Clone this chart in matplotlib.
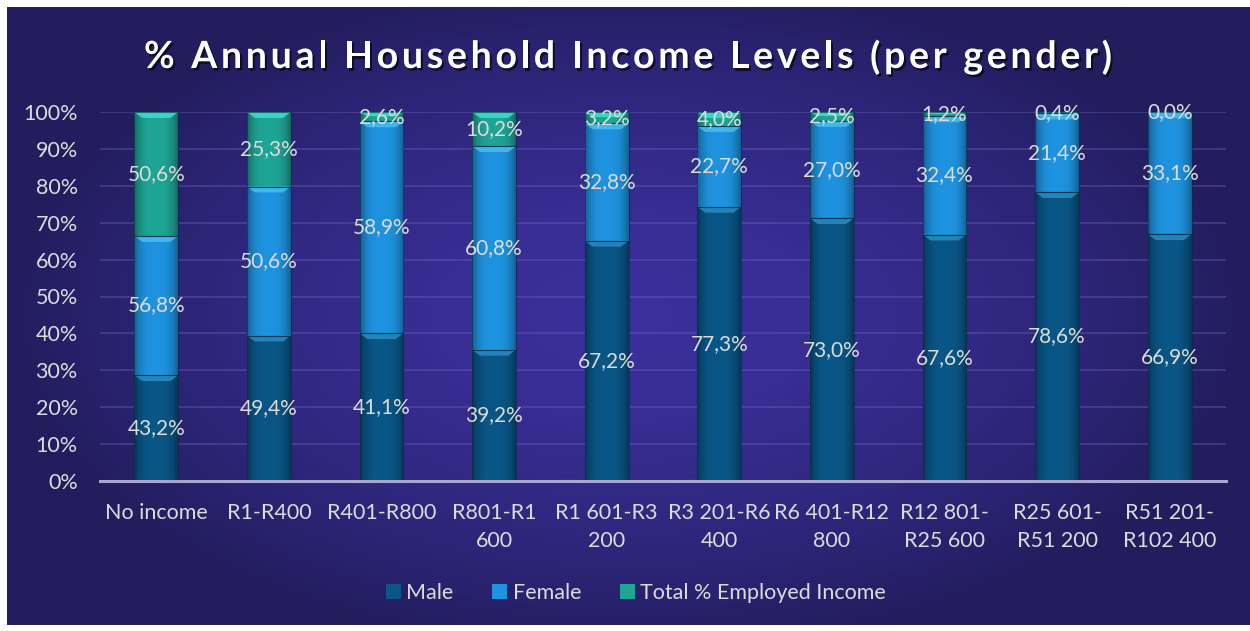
import numpy as np
import matplotlib
matplotlib.use("Agg")
import matplotlib.pyplot as plt
from matplotlib.patches import Polygon, Rectangle
from matplotlib.colors import to_rgb
from matplotlib.textpath import TextPath
from matplotlib.font_manager import FontProperties
import matplotlib.patheffects as pe

categories = ["No income", "R1-R400", "R401-R800", "R801-R1\n600", "R1 601-R3\n200",
              "R3 201-R6\n400", "R6 401-R12\n800", "R12 801-\nR25 600", "R25 601-\nR51 200",
              "R51 201-\nR102 400"]
male = [43.2, 49.4, 41.1, 39.2, 67.2, 77.3, 73.0, 67.6, 78.6, 66.9]
female = [56.8, 50.6, 58.9, 60.8, 32.8, 22.7, 27.0, 32.4, 21.4, 33.1]
total_employed = [50.6, 25.3, 2.6, 10.2, 3.2, 4.0, 2.5, 1.2, 0.4, 0.0]
series_names = ["Male", "Female", "Total % Employed Income"]
yticks = [0, 10, 20, 30, 40, 50, 60, 70, 80, 90, 100]
title = "% Annual Household Income Levels (per gender)"

colors = ["#0a5687", "#1f93e0", "#1fa595"]
bevel_colors = ["#2a8cc4", "#48bdf2", "#3fe0cc"]
text_color = "#dcdcdc"
FONT = "Lato"

W, H = 1250, 631
fig = plt.figure(figsize=(W / 100, H / 100), dpi=100)
fig.patch.set_facecolor("white")

# background panel with radial gradient
bg = fig.add_axes([0, 0, 1, 1])
bg.set_xlim(0, W)
bg.set_ylim(H, 0)
bg.axis("off")
gx, gy = np.meshgrid(np.linspace(-1, 1, 400), np.linspace(-1, 1, 200))
r = np.clip(np.sqrt((gx / 1.0) ** 2 + (gy / 1.1) ** 2), 0, 1)
c_in = np.array(to_rgb("#3b309c"))
c_out = np.array(to_rgb("#231d5e"))
img = c_in[None, None, :] * (1 - r[..., None] ** 1.6) + c_out[None, None, :] * (r[..., None] ** 1.6)
bg.imshow(img, extent=(7, W, 625, 7), aspect="auto", interpolation="bilinear", zorder=0)

# letter-spaced title
tfp = FontProperties(family=FONT, weight="bold", size=27)
spacing = 3.7  # extra px between chars
px_per_pt = 100 / 72
widths = []
for ch in title:
    if ch == " ":
        w = TextPath((0, 0), "a a", prop=tfp).get_extents().width - TextPath((0, 0), "aa", prop=tfp).get_extents().width
    else:
        w = TextPath((0, 0), "|" + ch + "|", prop=tfp).get_extents().width - TextPath((0, 0), "||", prop=tfp).get_extents().width
    widths.append(w * px_per_pt)
total_w = sum(widths) + spacing * (len(title) - 1)
cx = 628
xpos = cx - total_w / 2
for ch, w in zip(title, widths):
    bg.text(xpos, 57, ch, ha="left", va="center", color="white", fontproperties=tfp, zorder=5,
            path_effects=[pe.withSimplePatchShadow(offset=(1.5, -1.8), shadow_rgbFace="black",
                                                   alpha=0.6)])
    xpos += w + spacing

ax = fig.add_axes([100 / W, (H - 481) / H, (1226 - 100) / W, (481 - 112) / H])
ax.set_facecolor("none")

data = np.array([male, female, total_employed])
pct = data / data.sum(axis=0) * 100
x = np.arange(len(categories))
bw = 0.39

bottom = np.zeros(len(categories))
handles = []
for i, name in enumerate(series_names):
    bars = ax.bar(x, pct[i], bw, bottom=bottom, color=colors[i], label=name, zorder=3,
                  edgecolor="none")
    handles.append(bars)
    base = np.array(to_rgb(colors[i]))
    grad = np.linspace(-1, 1, 64)
    shade = 1 - 0.35 * np.abs(grad) ** 3
    gimg = (base[None, :] * shade[:, None])[None, :, :]
    for b, raw in zip(bars, data[i]):
        bx, by, bwid, bh = b.get_x(), b.get_y(), b.get_width(), b.get_height()
        if bh > 0:
            im = ax.imshow(gimg, extent=(bx, bx + bwid, by, by + bh), aspect="auto",
                           interpolation="bilinear", zorder=3.1)
            im.set_clip_path(b)
            bev = min(1.6, bh * 0.45)
            inset = 0.07
            poly = Polygon([(bx, by + bh), (bx + bwid, by + bh), (bx + bwid - inset, by + bh - bev),
                            (bx + inset, by + bh - bev)], closed=True,
                           facecolor=bevel_colors[i], edgecolor="none", alpha=0.85, zorder=3.2)
            ax.add_patch(poly)
            ax.add_patch(Rectangle((bx, by), bwid, bh, fill=False, edgecolor="#0a2a45",
                                   lw=0.8, alpha=0.6, zorder=3.3))
        ax.text(bx + bwid / 2, by + bh / 2, f"{raw:.1f}%".replace(".", ","), ha="center",
                va="center", color=text_color, fontsize=15, family=FONT, zorder=5)
    bottom = bottom + pct[i]

ax.set_xlim(-0.5, len(categories) - 0.5)
ax.set_ylim(0, 100)
ax.set_yticks(yticks)
ax.set_yticklabels([f"{t}%" for t in yticks])
ax.set_xticks(x)
ax.set_xticklabels(categories, linespacing=1.5)
ax.tick_params(axis="both", length=0, colors=text_color, labelsize=15.5)
ax.tick_params(axis="y", pad=16)
ax.tick_params(axis="x", pad=16)
for lab in ax.get_xticklabels() + ax.get_yticklabels():
    lab.set_family(FONT)
    lab.set_color(text_color)
ax.grid(axis="y", color="#6a63b8", alpha=0.45, lw=1.2, zorder=1)
for s in ["top", "right", "left"]:
    ax.spines[s].set_visible(False)
ax.spines["bottom"].set_color("#aaa6d2")
ax.spines["bottom"].set_linewidth(2.2)
ax.spines["bottom"].set_zorder(4)

leg = fig.legend(handles=handles, labels=series_names, loc="center", ncol=3,
                 bbox_to_anchor=(636 / W, 1 - 593 / H), frameon=False,
                 prop={"family": FONT, "size": 15.5}, handlelength=0.7, handleheight=0.7,
                 handletextpad=0.25, columnspacing=1.8, labelcolor=text_color)

fig.savefig("out.png", dpi=100, facecolor=fig.get_facecolor())
